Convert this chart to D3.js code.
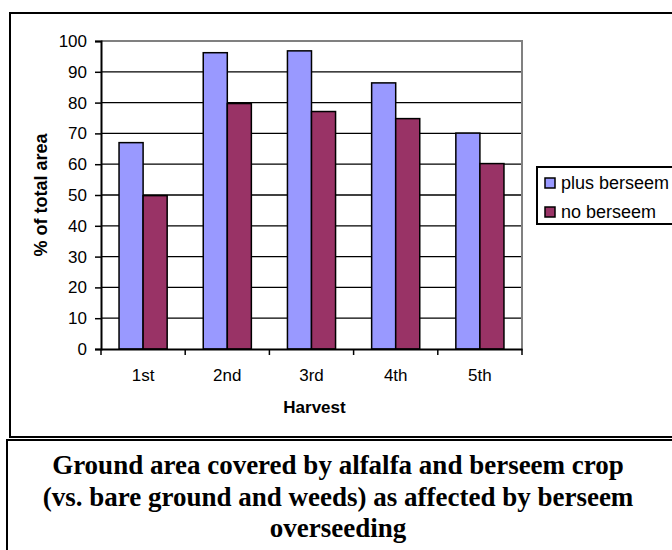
<!DOCTYPE html>
<html>
<head>
<meta charset="utf-8">
<script src="https://cdn.jsdelivr.net/npm/d3@7"></script>
<style>
  html, body { margin: 0; padding: 0; background: #fff; }
  svg { display: block; }
</style>
</head>
<body>
<script>
const categories = ["1st", "2nd", "3rd", "4th", "5th"];
const seriesNames = ["plus berseem", "no berseem"];
const plusBerseem = [67, 96.2, 96.8, 86.4, 70.1];
const noBerseem = [49.8, 79.7, 77.1, 74.8, 60.2];
const yTicks = [0, 10, 20, 30, 40, 50, 60, 70, 80, 90, 100];
const colors = ["#9999FF", "#993366"];
const titleLines = [
  "Ground area covered by alfalfa and berseem crop",
  "(vs. bare ground and weeds) as affected by berseem",
  "overseeding"
];

const W = 672, H = 550;
const svg = d3.select("body").append("svg").attr("width", W).attr("height", H);
const sans = "'Liberation Sans', Arial, sans-serif";

// outer chart box
svg.append("rect").attr("x", 10).attr("y", 13).attr("width", 700).attr("height", 424)
  .attr("fill", "#fff").attr("stroke", "#000").attr("stroke-width", 2);
// caption box
svg.append("rect").attr("x", 7).attr("y", 440).attr("width", 700).attr("height", 130)
  .attr("fill", "#fff").attr("stroke", "#000").attr("stroke-width", 2);

const pLeft = 101, pRight = 522, pTop = 41, pBottom = 349;
const x0 = d3.scaleBand().domain(categories).range([pLeft, pRight]).paddingInner(0).paddingOuter(0);
const x1 = d3.scaleBand().domain(seriesNames).range([0, x0.bandwidth()]).paddingInner(0).paddingOuter(0.75);
const y = d3.scaleLinear().domain([0, 100]).range([pBottom, pTop]);

// gridlines
svg.append("g").selectAll("line").data(yTicks.filter(t => t > 0 && t < 100)).join("line")
  .attr("x1", pLeft).attr("x2", pRight).attr("y1", d => y(d)).attr("y2", d => y(d))
  .attr("stroke", "#000").attr("stroke-width", 1.3);

// plot border top/right gray
svg.append("path").attr("d", `M${pLeft},${y(100)}H${pRight}V${pBottom}`)
  .attr("fill", "none").attr("stroke", "#808080").attr("stroke-width", 2);

// bars
const data = categories.map((c, i) => ({ c, vals: [plusBerseem[i], noBerseem[i]] }));
const groups = svg.append("g").selectAll("g").data(data).join("g")
  .attr("transform", d => `translate(${x0(d.c)},0)`);
groups.selectAll("rect").data(d => d.vals.map((v, j) => ({ s: seriesNames[j], v, j }))).join("rect")
  .attr("x", d => x1(d.s)).attr("width", x1.bandwidth())
  .attr("y", d => y(d.v)).attr("height", d => y(0) - y(d.v))
  .attr("fill", d => colors[d.j]).attr("stroke", "#000").attr("stroke-width", 1.5);

// y axis
const yAxis = svg.append("g").attr("transform", `translate(${pLeft},0)`)
  .call(d3.axisLeft(y).tickValues(yTicks).tickSize(6).tickPadding(8));
yAxis.select(".domain").attr("stroke", "#000").attr("stroke-width", 2);
yAxis.selectAll(".tick line").attr("stroke", "#000").attr("stroke-width", 1.5);
yAxis.selectAll("text").attr("font-family", sans).attr("font-size", 17).attr("fill", "#000");

// x axis
const xAxis = svg.append("g").attr("transform", `translate(0,${pBottom})`)
  .call(d3.axisBottom(x0).tickSize(0).tickPadding(20));
xAxis.select(".domain").attr("stroke", "#000").attr("stroke-width", 2);
xAxis.selectAll("text").attr("font-family", sans).attr("font-size", 17).attr("fill", "#000");
// category boundary ticks
svg.append("g").selectAll("line")
  .data(categories.map(c => x0(c)).concat([x0(categories[categories.length - 1]) + x0.bandwidth()]))
  .join("line")
  .attr("x1", d => d).attr("x2", d => d).attr("y1", pBottom).attr("y2", pBottom + 6)
  .attr("stroke", "#000").attr("stroke-width", 1.5);

// axis titles
svg.append("text").attr("x", (pLeft + pRight) / 2 + 3).attr("y", 413)
  .attr("text-anchor", "middle").attr("font-family", sans).attr("font-weight", "bold")
  .attr("font-size", 17).text("Harvest");
svg.append("text").attr("transform", `translate(47,${(pTop + pBottom) / 2}) rotate(-90)`)
  .attr("text-anchor", "middle").attr("font-family", sans).attr("font-weight", "bold")
  .attr("font-size", 18).text("% of total area");

// legend
svg.append("rect").attr("x", 537).attr("y", 167).attr("width", 200).attr("height", 57)
  .attr("fill", "#fff").attr("stroke", "#000").attr("stroke-width", 2);
const leg = svg.append("g").selectAll("g").data(seriesNames).join("g")
  .attr("transform", (d, i) => `translate(545,${178 + i * 29})`);
leg.append("rect").attr("width", 10).attr("height", 10)
  .attr("fill", (d, i) => colors[i]).attr("stroke", "#000").attr("stroke-width", 1.5);
leg.append("text").attr("x", 16).attr("y", 10.5).attr("font-family", sans).attr("font-size", 18)
  .text(d => d);

// caption
svg.append("g").selectAll("text").data(titleLines).join("text")
  .attr("x", 338).attr("y", (d, i) => 474 + i * 31.5)
  .attr("text-anchor", "middle").attr("font-family", "'Liberation Serif', 'Times New Roman', serif")
  .attr("font-weight", "bold").attr("font-size", 27).text(d => d);
</script>
</body>
</html>
